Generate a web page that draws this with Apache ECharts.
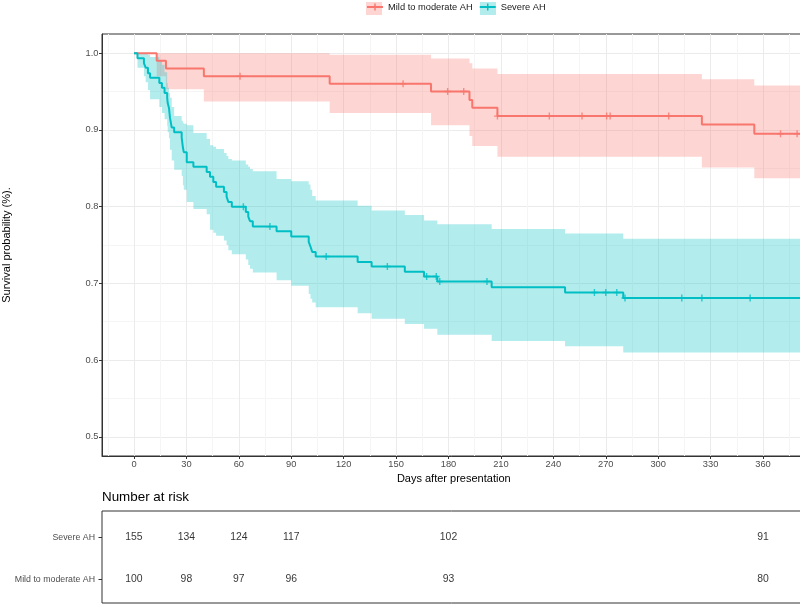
<!DOCTYPE html>
<html><head><meta charset="utf-8">
<script src="https://cdn.jsdelivr.net/npm/echarts@6/dist/echarts.min.js"></script>
<style>html,body{margin:0;padding:0;background:#fff}#c{width:800px;height:605px}</style>
</head><body><div id="c"></div>
<script>
const groups = ['Mild to moderate AH', 'Severe AH'];
const xTicks = [0, 30, 60, 90, 120, 150, 180, 210, 240, 270, 300, 330, 360];
const xMinorTicks = [-15, 15, 45, 75, 105, 135, 165, 195, 225, 255, 285, 315, 345, 375];
const yTicks = [0.5, 0.6, 0.7, 0.8, 0.9, 1.0];
const yMinorTicks = [0.55, 0.65, 0.75, 0.85, 0.95];

const mildTime  = [0, 13, 18.3, 40, 112, 170, 192, 193.6, 208, 325, 355, 390];
const mildSurv  = [1, 0.99, 0.98, 0.97, 0.96, 0.95, 0.939, 0.929, 0.918, 0.907, 0.895, 0.895];
const mildUpper = [1, 1, 1, 1, 0.998, 0.993, 0.987, 0.980, 0.973, 0.966, 0.958, 0.958];
const mildLower = [1, 0.97, 0.953, 0.937, 0.922, 0.906, 0.892, 0.879, 0.865, 0.851, 0.837, 0.837];
const mildCensor = [60.7, 154, 179.5, 188.7, 208, 237.7, 256.4, 270.5, 272.5, 306, 370, 379.5];

const sevTime  = [0, 2, 5.7, 6.7, 8, 9.2, 14.5, 16, 17.5, 19, 19.3, 20, 20.6, 21.6, 23, 27.3, 28, 28.5, 30.2, 34, 41.6, 43.5, 45.4, 47, 51.5, 53, 54, 56, 64, 65.4, 66.4, 68, 81.6, 90, 100, 101, 102, 104, 128, 136, 155, 166, 173.6, 204.7, 246.7, 280, 390];
const sevSurv  = [1, 0.9935, 0.987, 0.981, 0.974, 0.968, 0.961, 0.955, 0.948, 0.942, 0.935, 0.929, 0.916, 0.903, 0.897, 0.890, 0.877, 0.871, 0.858, 0.852, 0.845, 0.839, 0.832, 0.826, 0.819, 0.813, 0.806, 0.800, 0.793, 0.787, 0.781, 0.774, 0.768, 0.761, 0.754, 0.748, 0.741, 0.735, 0.728, 0.722, 0.715, 0.709, 0.7025, 0.695, 0.688, 0.681, 0.681];
const sevUpper = [1, 1, 1, 1, 0.998, 0.995, 0.990, 0.985, 0.975, 0.961, 0.955, 0.948, 0.942, 0.930, 0.918, 0.912, 0.909, 0.908, 0.906, 0.896, 0.888, 0.880, 0.878, 0.875, 0.870, 0.866, 0.862, 0.860, 0.855, 0.852, 0.849, 0.846, 0.836, 0.833, 0.829, 0.822, 0.814, 0.808, 0.801, 0.795, 0.789, 0.782, 0.777, 0.771, 0.765, 0.758, 0.758];
const sevLower = [1, 0.981, 0.970, 0.962, 0.952, 0.940, 0.930, 0.922, 0.914, 0.905, 0.897, 0.889, 0.874, 0.860, 0.848, 0.840, 0.828, 0.822, 0.806, 0.797, 0.790, 0.770, 0.766, 0.762, 0.756, 0.750, 0.743, 0.738, 0.731, 0.724, 0.719, 0.714, 0.704, 0.697, 0.686, 0.680, 0.675, 0.669, 0.661, 0.654, 0.647, 0.641, 0.633, 0.625, 0.618, 0.610, 0.610];
const sevCensor = [62.6, 77.8, 110, 145, 167.5, 173, 175, 202, 263.5, 270, 276.3, 281, 313.5, 325, 352.6];

const riskTitle = 'Number at risk';
const riskRows = ['Mild to moderate AH', 'Severe AH'];
const riskTimes = [0, 30, 60, 90, 180, 360];
const riskSevere = [155, 134, 124, 117, 102, 91];
const riskMild = [100, 98, 97, 96, 93, 80];

const RED = '#F8766D', CYAN = '#00BFC4';
const RED_FILL = 'rgba(248,118,109,0.3)', CYAN_FILL = 'rgba(0,191,196,0.3)';
const FONT = '"Liberation Sans", Arial, sans-serif';
const PLUS = 'path://M4,0H6V4H10V6H6V10H4V6H0V4H4Z';

function stepAt(times, vals, t) {
  let v = vals[0];
  for (let i = 0; i < times.length; i++) { if (times[i] <= t) v = vals[i]; }
  return v;
}
function bandSeries(name, times, lower, upper, fill) {
  return {
    type: 'custom', name: name, xAxisIndex: 0, yAxisIndex: 0, clip: true, silent: true,
    data: times.map((t, i) => [t, lower[i], upper[i]]),
    encode: { x: 0, y: [1, 2] },
    renderItem: function (params, api) {
      if (params.dataIndex !== 0) return null;
      const top = [], bot = [];
      for (let i = 0; i < times.length - 1; i++) {
        top.push(api.coord([times[i], upper[i]]), api.coord([times[i + 1], upper[i]]));
        bot.push(api.coord([times[i], lower[i]]), api.coord([times[i + 1], lower[i]]));
      }
      const pts = top.concat(bot.reverse());
      return { type: 'polygon', shape: { points: pts }, style: { fill: fill, stroke: null } };
    },
    z: 1
  };
}
function lineSeries(name, times, surv, color) {
  return {
    type: 'line', name: name, xAxisIndex: 0, yAxisIndex: 0, step: 'end',
    data: times.map((t, i) => [t, surv[i]]),
    symbol: PLUS, symbolSize: 7, showSymbol: false,
    lineStyle: { color: color, width: 2 }, itemStyle: { color: color },
    z: 3
  };
}
function censorSeries(name, times, surv, cens, color) {
  return {
    type: 'scatter', name: name, xAxisIndex: 0, yAxisIndex: 0,
    data: cens.map(t => [t, stepAt(times, surv, t)]),
    symbol: PLUS, symbolSize: 7, itemStyle: { color: color }, z: 4, silent: true
  };
}
function riskSeries(vals, row) {
  return {
    type: 'scatter', xAxisIndex: 2, yAxisIndex: 2, symbolSize: 1,
    itemStyle: { color: 'transparent' }, silent: true,
    data: riskTimes.map((t, i) => [t, row, vals[i]]),
    label: { show: true, position: 'inside', formatter: p => String(p.value[2]),
             color: '#000', fontSize: 10.4, fontFamily: FONT }
  };
}

const XMIN = -18.3, XMAX = 384.3;
const axisGrey = '#4D4D4D';

const option = {
  animation: false,
  backgroundColor: '#fff',
  textStyle: { fontFamily: FONT },
  title: { text: riskTitle, left: 102, top: 491, padding: 0, textStyle: { fontSize: 13.4, fontWeight: 'normal', color: '#000', fontFamily: FONT } },
  legend: {
    data: groups, left: 366, top: 2.5, padding: 0, itemWidth: 16, itemHeight: 9, itemGap: 6,
    textStyle: { fontSize: 9.3, color: '#1a1a1a', fontFamily: FONT }, selectedMode: false
  },
  graphic: [
    { type: 'rect', left: 366, top: 2, shape: { width: 16, height: 13 }, style: { fill: RED_FILL }, z: -1 },
    { type: 'rect', left: 480, top: 2, shape: { width: 16, height: 13 }, style: { fill: CYAN_FILL }, z: -1 }
  ],
  grid: [
    { left: 102, top: 34, width: 703.5, height: 422, show: true, borderColor: '#333', borderWidth: 1, backgroundColor: 'transparent', containLabel: false, outerBoundsMode: 'none' },
    { left: 102, top: 511, width: 703.5, height: 92, show: true, borderColor: '#333', borderWidth: 1, backgroundColor: 'transparent', containLabel: false, outerBoundsMode: 'none' }
  ],
  xAxis: [
    { type: 'value', gridIndex: 0, min: XMIN, max: XMAX, position: 'bottom',
      name: 'Days after presentation', nameLocation: 'middle', nameGap: 15,
      nameTextStyle: { fontSize: 11, color: '#000', fontFamily: FONT },
      axisLine: { show: true, onZero: false, lineStyle: { color: '#333', width: 1 } },
      axisTick: { show: true, length: 3, customValues: xTicks, lineStyle: { color: '#333' } },
      axisLabel: { customValues: xTicks, margin: 3.5, fontSize: 9.3, color: axisGrey, fontFamily: FONT },
      splitLine: { show: true, lineStyle: { color: '#EBEBEB', width: 1 } } },
    { type: 'value', gridIndex: 0, min: XMIN, max: XMAX, position: 'top',
      axisLine: { show: false, onZero: false }, axisTick: { show: false, customValues: xMinorTicks }, axisLabel: { show: false, customValues: xMinorTicks },
      splitLine: { show: true, lineStyle: { color: '#F5F5F5', width: 1 } } },
    { type: 'value', gridIndex: 1, min: XMIN, max: XMAX, show: false }
  ],
  yAxis: [
    { type: 'value', gridIndex: 0, min: 0.475, max: 1.025,
      name: 'Survival probability (%).', nameLocation: 'middle', nameRotate: 90, nameGap: 90,
      nameTextStyle: { fontSize: 11, color: '#000', fontFamily: FONT },
      axisLine: { show: true, onZero: false, lineStyle: { color: '#333', width: 1 } },
      axisTick: { show: true, length: 3, customValues: yTicks, lineStyle: { color: '#333' } },
      axisLabel: { customValues: yTicks, margin: 3.5, fontSize: 9.3, color: axisGrey, fontFamily: FONT, formatter: v => v.toFixed(1) },
      splitLine: { show: true, lineStyle: { color: '#EBEBEB', width: 1 } } },
    { type: 'value', gridIndex: 0, min: 0.475, max: 1.025, position: 'right',
      axisLine: { show: false, onZero: false }, axisTick: { show: false, customValues: yMinorTicks }, axisLabel: { show: false, customValues: yMinorTicks },
      splitLine: { show: true, lineStyle: { color: '#F5F5F5', width: 1 } } },
    { type: 'value', gridIndex: 1, min: 0.43, max: 2.63, position: 'left',
      axisLine: { show: false, onZero: false },
      axisTick: { show: true, length: 3.5, customValues: [1, 2], lineStyle: { color: '#333' } },
      axisLabel: { customValues: [1, 2], margin: 7, fontSize: 8.8, color: axisGrey, fontFamily: FONT, formatter: v => riskRows[Math.round(v) - 1] },
      splitLine: { show: false } }
  ],
  series: [
    bandSeries('mild band', mildTime, mildLower, mildUpper, RED_FILL),
    bandSeries('severe band', sevTime, sevLower, sevUpper, CYAN_FILL),
    lineSeries(groups[0], mildTime, mildSurv, RED),
    lineSeries(groups[1], sevTime, sevSurv, CYAN),
    censorSeries('mild censored', mildTime, mildSurv, mildCensor, RED),
    censorSeries('severe censored', sevTime, sevSurv, sevCensor, CYAN),
    riskSeries(riskSevere, 2),
    riskSeries(riskMild, 1)
  ]
};
const chart = echarts.init(document.getElementById('c'), null, { renderer: 'canvas' });
chart.setOption(option);
</script></body></html>
